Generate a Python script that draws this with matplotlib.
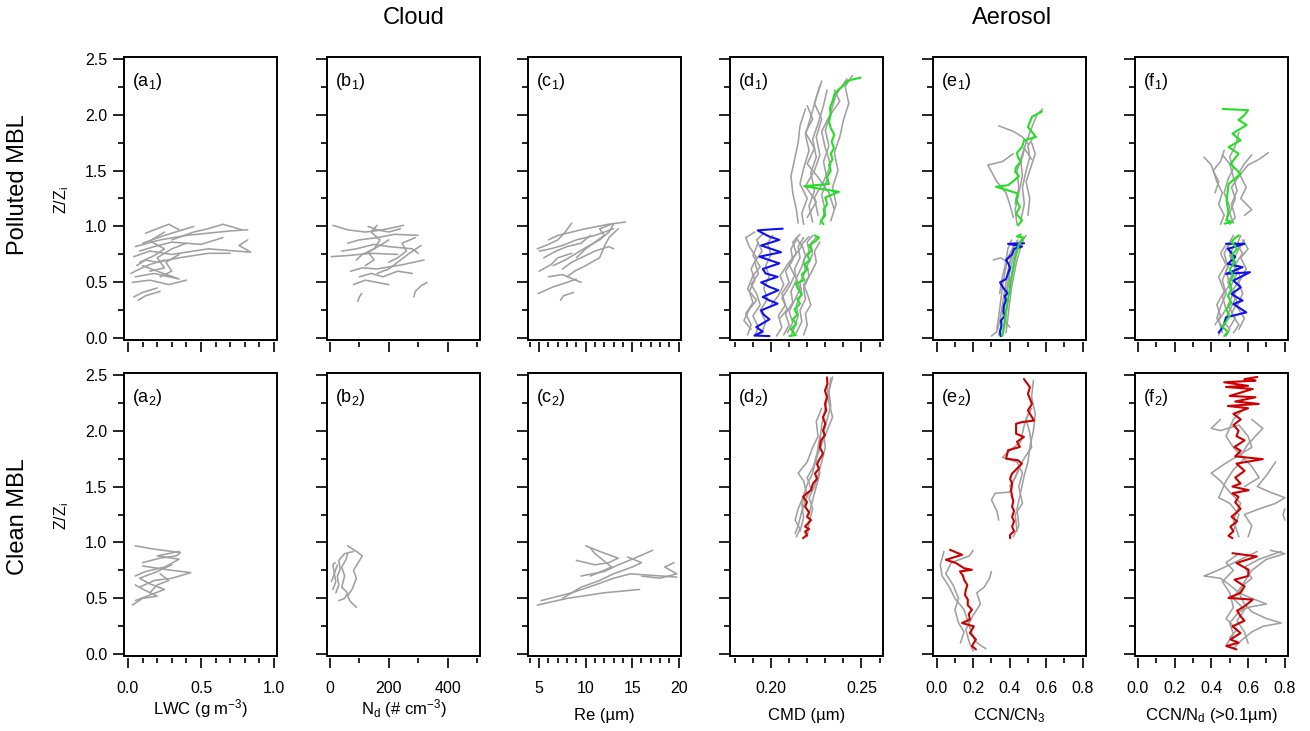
import matplotlib
matplotlib.use("Agg")
import matplotlib.pyplot as plt
from matplotlib.patches import Rectangle
from matplotlib.ticker import MultipleLocator, FixedLocator, FixedFormatter

plt.rcParams['font.family'] = ['Liberation Sans', 'DejaVu Sans']
plt.rcParams['mathtext.fontset'] = 'custom'
plt.rcParams['mathtext.rm'] = 'Liberation Sans'
plt.rcParams['mathtext.it'] = 'Liberation Sans:italic'
plt.rcParams['mathtext.bf'] = 'Liberation Sans:bold'

GRAY = '#a0a0a0'
BLUE = '#1010f0'
GREEN = '#22e022'
RED = '#cc0000'

# ---------------------------------------------------------------------------
# Individual profiles: lists of (value, Z/Zi) pairs
# ---------------------------------------------------------------------------

# (a1) LWC, polluted MBL
LWC_POLLUTED = [
    [(0.04, 0.37), (0.10, 0.41), (0.20, 0.45)],
    [(0.07, 0.34), (0.12, 0.38), (0.22, 0.42)],
    [(0.03, 0.50), (0.15, 0.52), (0.28, 0.48), (0.40, 0.52)],
    [(0.05, 0.55), (0.18, 0.58), (0.35, 0.53), (0.20, 0.60), (0.10, 0.65)],
    [(0.02, 0.58), (0.08, 0.62), (0.15, 0.66), (0.25, 0.70)],
    [(0.06, 0.65), (0.12, 0.70), (0.20, 0.68), (0.35, 0.72), (0.55, 0.76), (0.70, 0.76)],
    [(0.04, 0.73), (0.15, 0.78), (0.30, 0.75), (0.55, 0.80), (0.84, 0.77), (0.76, 0.83), (0.82, 0.88)],
    [(0.08, 0.78), (0.18, 0.82), (0.30, 0.86), (0.50, 0.84), (0.65, 0.90)],
    [(0.05, 0.82), (0.22, 0.88), (0.40, 0.92), (0.70, 0.96), (0.82, 0.97)],
    [(0.10, 0.85), (0.25, 0.92), (0.35, 0.96), (0.45, 1.00)],
    [(0.12, 0.94), (0.20, 0.98), (0.28, 1.02), (0.35, 0.97)],
    [(0.30, 0.88), (0.45, 0.95), (0.55, 0.98), (0.65, 1.02), (0.78, 0.97)],
    [(0.15, 0.60), (0.25, 0.63), (0.20, 0.72), (0.30, 0.80), (0.40, 0.85)],
    [(0.08, 0.68), (0.18, 0.74), (0.25, 0.80), (0.15, 0.87), (0.25, 0.95)],
    [(0.22, 0.55), (0.30, 0.60), (0.26, 0.68), (0.35, 0.75)],
]

# (b1) Nd, polluted MBL
ND_POLLUTED = [
    [(95, 0.33), (100, 0.37), (108, 0.40)],
    [(285, 0.37), (290, 0.42), (310, 0.47), (330, 0.50)],
    [(80, 0.48), (120, 0.52), (160, 0.50), (200, 0.48)],
    [(100, 0.55), (140, 0.58), (180, 0.55), (230, 0.60), (280, 0.58)],
    [(70, 0.60), (110, 0.63), (160, 0.62), (250, 0.66), (320, 0.70)],
    [(5, 0.73), (60, 0.74), (140, 0.76), (230, 0.75)],
    [(40, 0.78), (90, 0.80), (150, 0.84), (200, 0.82), (280, 0.80), (300, 0.76)],
    [(120, 0.65), (150, 0.70), (130, 0.77), (170, 0.83), (200, 0.88)],
    [(60, 0.85), (100, 0.88), (160, 0.90), (220, 0.93), (300, 0.92)],
    [(10, 1.01), (60, 0.97), (120, 0.95), (180, 0.97), (250, 1.01)],
    [(130, 1.00), (160, 0.97), (200, 0.95), (240, 0.98)],
    [(90, 0.70), (110, 0.75), (150, 0.80), (170, 0.88), (140, 0.95), (160, 1.01)],
    [(160, 0.58), (200, 0.62), (240, 0.70), (270, 0.76), (310, 0.83)],
    [(200, 0.68), (230, 0.72), (260, 0.78), (245, 0.85), (290, 0.90)],
]

# (c1) Re, polluted MBL
RE_POLLUTED = [
    [(4.9, 0.40), (6.5, 0.46), (8.0, 0.50), (9.0, 0.53)],
    [(7.3, 0.34), (7.6, 0.38), (8.7, 0.41)],
    [(6.0, 0.55), (7.5, 0.57), (9.5, 0.50)],
    [(5.0, 0.60), (6.3, 0.66), (7.0, 0.72), (8.5, 0.76)],
    [(5.5, 0.72), (6.8, 0.78), (8.0, 0.82), (9.5, 0.85), (10.5, 0.92)],
    [(5.0, 0.78), (6.2, 0.80), (7.5, 0.83), (9.0, 0.88), (11.0, 0.92), (13.0, 0.98)],
    [(6.0, 0.88), (7.0, 0.92), (8.5, 0.95), (10.0, 0.98), (12.5, 1.02), (14.3, 1.04)],
    [(4.8, 0.80), (6.0, 0.84), (7.0, 0.88), (7.8, 0.95), (8.5, 1.03)],
    [(7.5, 0.62), (8.5, 0.68), (9.5, 0.72), (11.0, 0.78), (12.5, 0.82), (13.0, 0.80)],
    [(8.0, 0.55), (8.8, 0.60), (10.0, 0.65), (11.5, 0.72), (12.0, 0.82), (12.5, 0.90), (13.5, 0.98)],
    [(6.5, 0.65), (7.8, 0.70), (9.0, 0.76), (10.2, 0.82), (11.5, 0.88), (12.5, 0.95), (13.0, 1.02)],
    [(9.0, 0.72), (10.0, 0.80), (11.0, 0.86), (12.0, 0.92), (11.5, 0.98), (12.8, 1.02)],
]

# (a2) LWC, clean MBL
LWC_CLEAN = [
    [(0.03, 0.44), (0.10, 0.50), (0.20, 0.52), (0.12, 0.57), (0.05, 0.62)],
    [(0.05, 0.48), (0.15, 0.53), (0.25, 0.58), (0.15, 0.63), (0.08, 0.68), (0.20, 0.74), (0.30, 0.80)],
    [(0.08, 0.60), (0.18, 0.66), (0.30, 0.68), (0.43, 0.73), (0.25, 0.76), (0.10, 0.79)],
    [(0.05, 0.70), (0.12, 0.74), (0.25, 0.78), (0.35, 0.85), (0.20, 0.88), (0.35, 0.92)],
    [(0.10, 0.82), (0.22, 0.86), (0.33, 0.88), (0.36, 0.91), (0.18, 0.94), (0.05, 0.97)],
    [(0.15, 0.55), (0.20, 0.62), (0.28, 0.66), (0.22, 0.72)],
]

# (b2) Nd, clean MBL
ND_CLEAN = [
    [(10, 0.58), (20, 0.65), (15, 0.72), (25, 0.80)],
    [(30, 0.48), (50, 0.50), (60, 0.55), (40, 0.60), (50, 0.70), (40, 0.78), (55, 0.85), (60, 0.90)],
    [(90, 0.42), (70, 0.47), (60, 0.52), (75, 0.58), (90, 0.68), (80, 0.75), (110, 0.88), (90, 0.92), (60, 0.97)],
    [(20, 0.55), (30, 0.62), (25, 0.70), (35, 0.76), (30, 0.84), (50, 0.90), (80, 0.92)],
    [(5, 0.65), (15, 0.72), (10, 0.80), (18, 0.82)],
]

# (c2) Re, clean MBL
RE_CLEAN = [
    [(4.8, 0.44), (8.0, 0.50), (12.0, 0.55), (15.8, 0.58)],
    [(5.2, 0.48), (8.5, 0.55), (11.0, 0.62), (13.0, 0.68), (14.8, 0.72), (19.8, 0.69)],
    [(7.5, 0.50), (9.5, 0.60), (11.5, 0.66), (13.0, 0.72), (15.0, 0.78), (16.0, 0.82), (14.5, 0.87)],
    [(9.5, 0.70), (12.0, 0.74), (13.5, 0.80), (15.0, 0.85), (17.2, 0.93)],
    [(9.0, 0.84), (11.0, 0.80), (12.5, 0.82), (13.5, 0.86), (11.5, 0.92), (10.0, 0.97)],
    [(16.0, 0.70), (18.0, 0.68), (19.8, 0.72), (18.5, 0.78), (19.5, 0.82)],
    [(10.5, 0.70), (12.8, 0.78), (11.0, 0.90), (10.5, 0.95)],
]

# (d1) CMD, polluted MBL
CMD_POLLUTED = [
    # below cloud, low-CMD cases
    [(0.187, 0.03), (0.189, 0.12), (0.186, 0.22), (0.190, 0.32), (0.188, 0.42), (0.191, 0.52),
     (0.189, 0.62), (0.192, 0.72), (0.188, 0.82), (0.186, 0.90), (0.191, 0.95)],
    [(0.191, 0.02), (0.193, 0.10), (0.190, 0.20), (0.194, 0.30), (0.192, 0.40), (0.189, 0.48),
     (0.193, 0.58), (0.191, 0.68), (0.195, 0.78), (0.192, 0.88), (0.196, 0.94)],
    [(0.195, 0.05), (0.197, 0.15), (0.194, 0.25), (0.198, 0.35), (0.196, 0.45), (0.199, 0.55),
     (0.197, 0.65), (0.200, 0.75), (0.198, 0.85), (0.201, 0.92)],
    [(0.189, 0.08), (0.185, 0.16), (0.188, 0.26), (0.192, 0.34), (0.187, 0.44), (0.190, 0.56),
     (0.194, 0.64), (0.190, 0.74), (0.193, 0.86)],
    # below cloud, high-CMD cases
    [(0.203, 0.02), (0.206, 0.10), (0.204, 0.20), (0.208, 0.30), (0.206, 0.40), (0.210, 0.50),
     (0.208, 0.60), (0.212, 0.70), (0.211, 0.80), (0.214, 0.88)],
    [(0.207, 0.03), (0.210, 0.12), (0.208, 0.22), (0.212, 0.32), (0.211, 0.42), (0.214, 0.52),
     (0.213, 0.62), (0.216, 0.72), (0.215, 0.82), (0.218, 0.90)],
    [(0.211, 0.02), (0.213, 0.10), (0.215, 0.20), (0.214, 0.30), (0.217, 0.40), (0.216, 0.50),
     (0.219, 0.60), (0.218, 0.70), (0.221, 0.78), (0.220, 0.86), (0.223, 0.92)],
    [(0.214, 0.05), (0.217, 0.15), (0.216, 0.25), (0.219, 0.35), (0.218, 0.45), (0.221, 0.55),
     (0.220, 0.65), (0.223, 0.75), (0.222, 0.85), (0.225, 0.90)],
    [(0.218, 0.03), (0.220, 0.12), (0.219, 0.22), (0.222, 0.30), (0.220, 0.40), (0.218, 0.48),
     (0.222, 0.58), (0.225, 0.68), (0.224, 0.78), (0.227, 0.86)],
    [(0.205, 0.18), (0.209, 0.26), (0.206, 0.36), (0.210, 0.46), (0.213, 0.56), (0.210, 0.66),
     (0.214, 0.76), (0.212, 0.86), (0.216, 0.93)],
    [(0.200, 0.30), (0.204, 0.38), (0.207, 0.48), (0.205, 0.56), (0.209, 0.66), (0.213, 0.74),
     (0.217, 0.82), (0.214, 0.90)],
    [(0.209, 0.05), (0.212, 0.14), (0.210, 0.24), (0.213, 0.34), (0.216, 0.44), (0.214, 0.54),
     (0.217, 0.64), (0.219, 0.74), (0.217, 0.84), (0.221, 0.91)],
    # above cloud
    [(0.2150, 1.03), (0.2140, 1.15), (0.2120, 1.30), (0.2110, 1.45), (0.2130, 1.60), (0.2150, 1.75),
     (0.2160, 1.90), (0.2190, 2.05)],
    [(0.2180, 1.02), (0.2170, 1.12), (0.2200, 1.25), (0.2160, 1.38), (0.2180, 1.52), (0.2210, 1.68),
     (0.2190, 1.82), (0.2220, 1.98), (0.2250, 2.15), (0.2280, 2.30)],
    [(0.2230, 1.04), (0.2210, 1.18), (0.2240, 1.32), (0.2220, 1.48), (0.2250, 1.62), (0.2230, 1.78),
     (0.2260, 1.92), (0.2290, 2.08), (0.2310, 2.22)],
    [(0.2270, 1.02), (0.2300, 1.14), (0.2280, 1.28), (0.2310, 1.42), (0.2290, 1.58), (0.2320, 1.72),
     (0.2300, 1.86), (0.2330, 2.02), (0.2360, 2.18), (0.2420, 2.32)],
    [(0.2330, 1.05), (0.2360, 1.20), (0.2340, 1.35), (0.2370, 1.50), (0.2350, 1.66), (0.2380, 1.80),
     (0.2400, 1.95), (0.2430, 2.10), (0.2410, 2.25), (0.2450, 2.35)],
    [(0.2200, 1.08), (0.2250, 1.22), (0.2190, 1.36), (0.2240, 1.50), (0.2270, 1.64), (0.2250, 1.80),
     (0.2280, 1.96), (0.2240, 2.10), (0.2270, 2.26)],
    [(0.2260, 1.10), (0.2240, 1.26), (0.2290, 1.40), (0.2330, 1.55), (0.2300, 1.70), (0.2280, 1.85),
     (0.2320, 1.98), (0.2380, 2.12), (0.2350, 2.22)],
    [(0.2350, 1.15), (0.2320, 1.30), (0.2260, 1.44), (0.2200, 1.56), (0.2240, 1.70), (0.2190, 1.84),
     (0.2230, 1.96), (0.2200, 2.08)],
]
CMD_POLLUTED_MEAN_LOWCMD = [
    (0.1991, 0.020), (0.1908, 0.025), (0.1954, 0.06), (0.1918, 0.10), (0.1991, 0.17), (0.1960, 0.21),
    (0.1945, 0.25), (0.2036, 0.31), (0.1990, 0.34), (0.1954, 0.37), (0.2040, 0.43), (0.1990, 0.46),
    (0.1945, 0.50), (0.2036, 0.55), (0.1970, 0.58), (0.1954, 0.62), (0.2046, 0.67), (0.1990, 0.70),
    (0.1936, 0.73), (0.2055, 0.77), (0.2000, 0.80), (0.1945, 0.83), (0.2046, 0.88), (0.1990, 0.91),
    (0.1954, 0.94), (0.1926, 0.965), (0.2009, 0.975), (0.2064, 0.98),
]
CMD_POLLUTED_MEAN = [
    # below cloud
    [(0.2101, 0.02), (0.2137, 0.03), (0.2110, 0.08), (0.2140, 0.13), (0.2120, 0.17), (0.2145, 0.21),
     (0.2130, 0.26), (0.2160, 0.31), (0.2145, 0.35), (0.2170, 0.39), (0.2150, 0.44), (0.2137, 0.49),
     (0.2183, 0.52), (0.2170, 0.57), (0.2201, 0.62), (0.2185, 0.66), (0.2215, 0.70), (0.2200, 0.74),
     (0.2225, 0.79), (0.2210, 0.83), (0.2247, 0.87), (0.2265, 0.90), (0.2240, 0.92)],
    # above cloud
    [(0.2290, 1.02), (0.2275, 1.05), (0.2300, 1.10), (0.2290, 1.15), (0.2310, 1.20), (0.2300, 1.26),
     (0.2375, 1.31), (0.2183, 1.36), (0.2320, 1.38), (0.2310, 1.44), (0.2330, 1.50), (0.2320, 1.55),
     (0.2340, 1.60), (0.2330, 1.65), (0.2348, 1.70), (0.2335, 1.76), (0.2350, 1.82), (0.2330, 1.88),
     (0.2320, 1.94), (0.2330, 2.00), (0.2325, 2.06), (0.2340, 2.12), (0.2350, 2.18), (0.2370, 2.22),
     (0.2400, 2.26), (0.2421, 2.30), (0.2440, 2.31), (0.2495, 2.33)],
]

# (e1) CCN/CN3, polluted MBL
CCNCN_POLLUTED = [
    [(0.300, 0.02), (0.330, 0.06), (0.345, 0.15), (0.360, 0.30), (0.375, 0.45), (0.390, 0.60),
     (0.410, 0.75), (0.430, 0.85)],
    [(0.340, 0.03), (0.355, 0.12), (0.365, 0.25), (0.380, 0.40), (0.395, 0.55), (0.415, 0.70),
     (0.440, 0.82), (0.470, 0.90)],
    [(0.360, 0.02), (0.372, 0.10), (0.380, 0.22), (0.392, 0.35), (0.405, 0.50), (0.420, 0.62),
     (0.435, 0.75), (0.455, 0.86), (0.490, 0.92)],
    [(0.380, 0.05), (0.390, 0.18), (0.398, 0.30), (0.410, 0.45), (0.425, 0.58), (0.440, 0.70),
     (0.458, 0.80), (0.475, 0.88)],
    [(0.330, 0.08), (0.340, 0.20), (0.352, 0.35), (0.362, 0.48), (0.375, 0.60), (0.390, 0.72),
     (0.420, 0.82), (0.445, 0.88)],
    [(0.400, 0.10), (0.380, 0.14), (0.372, 0.28), (0.385, 0.42), (0.400, 0.52), (0.395, 0.65),
     (0.420, 0.78), (0.460, 0.86)],
    [(0.310, 0.70), (0.350, 0.72), (0.380, 0.69), (0.400, 0.75)],
    [(0.345, 0.40), (0.360, 0.55), (0.375, 0.65), (0.390, 0.80), (0.410, 0.88)],
    [(0.44, 1.02), (0.43, 1.15), (0.45, 1.30), (0.47, 1.45), (0.46, 1.60), (0.49, 1.75), (0.52, 1.88),
     (0.55, 2.00), (0.58, 2.05)],
    [(0.46, 1.05), (0.48, 1.20), (0.47, 1.35), (0.49, 1.50), (0.51, 1.62), (0.50, 1.72), (0.53, 1.80)],
    [(0.42, 1.08), (0.40, 1.20), (0.38, 1.30), (0.33, 1.40), (0.28, 1.55), (0.36, 1.58), (0.42, 1.65)],
    [(0.50, 1.10), (0.51, 1.25), (0.49, 1.40), (0.52, 1.55), (0.54, 1.65), (0.52, 1.75)],
    [(0.34, 1.90), (0.42, 1.85), (0.47, 1.80), (0.50, 1.74)],
    [(0.43, 1.20), (0.45, 1.35), (0.44, 1.50), (0.47, 1.62), (0.48, 1.70), (0.52, 1.60)],
]
CCNCN_POLLUTED_MEAN_LOWCMD = [
    (0.350, 0.02), (0.347, 0.06), (0.355, 0.11), (0.352, 0.16), (0.375, 0.20), (0.365, 0.24),
    (0.369, 0.30), (0.380, 0.34), (0.372, 0.38), (0.390, 0.40), (0.365, 0.45), (0.347, 0.50),
    (0.380, 0.53), (0.391, 0.58), (0.402, 0.63), (0.392, 0.67), (0.380, 0.70), (0.413, 0.75),
    (0.424, 0.80), (0.468, 0.82), (0.391, 0.845), (0.479, 0.85),
]
CCNCN_POLLUTED_MEAN = [
    [(0.358, 0.02), (0.365, 0.08), (0.372, 0.15), (0.378, 0.22), (0.385, 0.29), (0.392, 0.36),
     (0.400, 0.43), (0.405, 0.50), (0.412, 0.57), (0.420, 0.64), (0.428, 0.71), (0.440, 0.78),
     (0.450, 0.84), (0.479, 0.90), (0.440, 0.91), (0.460, 0.93)],
    [(0.445, 1.01), (0.468, 1.055), (0.435, 1.115), (0.456, 1.175), (0.435, 1.235), (0.445, 1.295),
     (0.325, 1.355), (0.391, 1.369), (0.424, 1.41), (0.450, 1.45), (0.430, 1.49), (0.435, 1.53),
     (0.460, 1.58), (0.445, 1.62), (0.440, 1.66), (0.468, 1.71), (0.479, 1.77), (0.544, 1.80),
     (0.500, 1.89), (0.522, 1.98), (0.577, 2.027)],
]

# (f1) CCN/Nd(>0.1um), polluted MBL
CCNND_POLLUTED = [
    [(0.44, 0.03), (0.46, 0.10), (0.43, 0.18), (0.45, 0.28), (0.48, 0.40), (0.46, 0.52), (0.49, 0.64),
     (0.47, 0.76), (0.50, 0.86), (0.52, 0.92)],
    [(0.48, 0.02), (0.50, 0.08), (0.47, 0.15), (0.50, 0.25), (0.53, 0.35), (0.50, 0.45), (0.54, 0.58),
     (0.52, 0.70), (0.55, 0.80), (0.58, 0.88)],
    [(0.52, 0.05), (0.55, 0.12), (0.51, 0.22), (0.54, 0.32), (0.52, 0.44), (0.56, 0.54), (0.53, 0.66),
     (0.57, 0.76), (0.54, 0.84), (0.56, 0.92)],
    [(0.42, 0.12), (0.45, 0.20), (0.43, 0.30), (0.47, 0.42), (0.44, 0.55), (0.48, 0.66), (0.45, 0.76),
     (0.48, 0.84)],
    [(0.46, 0.05), (0.44, 0.16), (0.48, 0.26), (0.46, 0.38), (0.50, 0.48), (0.48, 0.60), (0.51, 0.72),
     (0.49, 0.82), (0.53, 0.90)],
    [(0.55, 0.08), (0.58, 0.18), (0.54, 0.28), (0.57, 0.40), (0.55, 0.50), (0.59, 0.62), (0.56, 0.72),
     (0.60, 0.80), (0.57, 0.88)],
    [(0.50, 0.10), (0.53, 0.18), (0.49, 0.30), (0.52, 0.40), (0.49, 0.50), (0.53, 0.62), (0.50, 0.74),
     (0.53, 0.86)],
    [(0.45, 1.02), (0.47, 1.10), (0.44, 1.20), (0.46, 1.30), (0.43, 1.40), (0.40, 1.55), (0.36, 1.62)],
    [(0.52, 1.03), (0.50, 1.12), (0.53, 1.25), (0.51, 1.35), (0.55, 1.45), (0.60, 1.55), (0.66, 1.60),
     (0.71, 1.66)],
    [(0.48, 1.05), (0.50, 1.18), (0.47, 1.30), (0.49, 1.42), (0.52, 1.52), (0.50, 1.62), (0.53, 1.72),
     (0.55, 1.84)],
    [(0.58, 1.10), (0.62, 1.15), (0.56, 1.25), (0.59, 1.35), (0.55, 1.48), (0.58, 1.56), (0.62, 1.64)],
    [(0.42, 1.30), (0.44, 1.40), (0.41, 1.50), (0.45, 1.58), (0.47, 1.68)],
    [(0.50, 1.02), (0.53, 1.08), (0.51, 1.20), (0.54, 1.32), (0.52, 1.44), (0.50, 1.56), (0.46, 1.64)],
]
CCNND_POLLUTED_MEAN_LOWCMD = [
    (0.44, 0.052), (0.455, 0.082), (0.47, 0.127), (0.48, 0.187), (0.59, 0.232), (0.52, 0.307),
    (0.57, 0.337), (0.51, 0.396), (0.56, 0.456), (0.52, 0.516), (0.61, 0.591), (0.48, 0.576),
    (0.57, 0.636), (0.49, 0.666), (0.53, 0.726), (0.49, 0.80), (0.58, 0.845), (0.48, 0.845),
]
CCNND_POLLUTED_MEAN = [
    [(0.47, 0.02), (0.49, 0.06), (0.46, 0.10), (0.48, 0.15), (0.50, 0.20), (0.48, 0.26), (0.51, 0.32),
     (0.49, 0.38), (0.51, 0.44), (0.50, 0.50), (0.52, 0.56), (0.50, 0.62), (0.53, 0.68), (0.51, 0.74),
     (0.54, 0.80), (0.51, 0.86), (0.53, 0.90), (0.55, 0.92)],
    [(0.472, 1.025), (0.515, 1.04), (0.483, 1.055), (0.494, 1.115), (0.483, 1.235), (0.494, 1.38),
     (0.559, 1.47), (0.505, 1.56), (0.548, 1.65), (0.494, 1.71), (0.559, 1.77), (0.515, 1.83),
     (0.592, 1.907), (0.548, 1.952), (0.581, 1.997), (0.600, 2.04), (0.462, 2.05)],
]

# (d2) CMD, clean MBL
CMD_CLEAN = [
    [(0.2140, 1.05), (0.2160, 1.12), (0.2133, 1.20), (0.2150, 1.30), (0.2180, 1.42), (0.2200, 1.52),
     (0.2230, 1.62), (0.2250, 1.75), (0.2270, 1.90), (0.2280, 2.05), (0.2300, 2.20), (0.2320, 2.35),
     (0.2330, 2.47)],
    [(0.2200, 1.05), (0.2210, 1.18), (0.2230, 1.30), (0.2210, 1.40), (0.2240, 1.50), (0.2260, 1.60),
     (0.2280, 1.72), (0.2300, 1.85), (0.2290, 1.98), (0.2310, 2.10), (0.2330, 2.22), (0.2320, 2.35),
     (0.2340, 2.48)],
    [(0.2160, 1.10), (0.2180, 1.22), (0.2170, 1.35), (0.2195, 1.45), (0.2180, 1.55), (0.2150, 1.62),
     (0.2200, 1.72), (0.2230, 1.85), (0.2260, 1.95), (0.2250, 2.08), (0.2280, 2.20)],
    [(0.2210, 1.25), (0.2230, 1.38), (0.2250, 1.50), (0.2270, 1.62), (0.2250, 1.75), (0.2280, 1.88),
     (0.2310, 2.00), (0.2340, 2.12), (0.2320, 2.25), (0.2310, 2.40)],
    [(0.2133, 1.08), (0.2150, 1.15), (0.2170, 1.28), (0.2190, 1.38), (0.2220, 1.48), (0.2200, 1.58),
     (0.2235, 1.68), (0.2255, 1.80), (0.2270, 1.95)],
]
CMD_CLEAN_MEAN = [
    [(0.2177, 1.038), (0.2199, 1.068), (0.2188, 1.097), (0.2210, 1.12), (0.2188, 1.142), (0.2221, 1.20),
     (0.2199, 1.23), (0.2210, 1.27), (0.2188, 1.32), (0.2199, 1.36), (0.2177, 1.408), (0.2199, 1.44),
     (0.2221, 1.467), (0.2232, 1.527), (0.2254, 1.57), (0.2243, 1.616), (0.2265, 1.66), (0.2254, 1.70),
     (0.2265, 1.735), (0.2287, 1.794), (0.2270, 1.85), (0.2276, 1.913), (0.2298, 1.96), (0.2287, 2.00),
     (0.2300, 2.06), (0.2287, 2.12), (0.2305, 2.18), (0.2298, 2.238), (0.2309, 2.30), (0.2298, 2.357),
     (0.2312, 2.42), (0.2309, 2.476)],
]

# (e2) CCN/CN3, clean MBL
CCNCN_CLEAN = [
    [(0.34, 1.20), (0.33, 1.28), (0.30, 1.38), (0.32, 1.44), (0.40, 1.45), (0.42, 1.55), (0.45, 1.65)],
    [(0.42, 1.05), (0.45, 1.15), (0.44, 1.30), (0.46, 1.45), (0.48, 1.60), (0.50, 1.72), (0.51, 1.85),
     (0.53, 2.00), (0.54, 2.15), (0.52, 2.30), (0.53, 2.45)],
    [(0.44, 1.10), (0.43, 1.25), (0.47, 1.35), (0.45, 1.50), (0.47, 1.62), (0.44, 1.72), (0.36, 1.76),
     (0.40, 1.82), (0.46, 1.90), (0.48, 2.05), (0.50, 2.15)],
    [(0.40, 1.50), (0.43, 1.58), (0.46, 1.70), (0.49, 1.78), (0.52, 1.85), (0.51, 1.98), (0.49, 2.10),
     (0.52, 2.20)],
    [(0.27, 0.05), (0.24, 0.08), (0.21, 0.12), (0.19, 0.20), (0.17, 0.30), (0.15, 0.40), (0.10, 0.50),
     (0.07, 0.60), (0.03, 0.70), (0.02, 0.80), (0.04, 0.92)],
    [(0.20, 0.03), (0.18, 0.10), (0.16, 0.22), (0.20, 0.35), (0.24, 0.45), (0.22, 0.55), (0.26, 0.60),
     (0.29, 0.68), (0.30, 0.74)],
    [(0.13, 0.10), (0.15, 0.20), (0.12, 0.28), (0.10, 0.40), (0.12, 0.50), (0.09, 0.62), (0.05, 0.72),
     (0.08, 0.82), (0.18, 0.88), (0.20, 0.93)],
]
CCNCN_CLEAN_MEAN = [
    [(0.215, 0.044), (0.193, 0.074), (0.215, 0.133), (0.182, 0.19), (0.204, 0.25), (0.139, 0.28),
     (0.182, 0.311), (0.176, 0.36), (0.193, 0.40), (0.170, 0.44), (0.171, 0.489), (0.155, 0.53),
     (0.160, 0.578), (0.168, 0.62), (0.150, 0.667), (0.145, 0.70), (0.128, 0.741), (0.193, 0.756),
     (0.150, 0.77), (0.106, 0.816), (0.051, 0.845), (0.139, 0.89), (0.073, 0.934)],
    [(0.402, 1.038), (0.402, 1.068), (0.424, 1.10), (0.413, 1.142), (0.424, 1.19), (0.413, 1.23),
     (0.424, 1.28), (0.413, 1.32), (0.420, 1.37), (0.413, 1.408), (0.408, 1.46), (0.413, 1.527),
     (0.402, 1.57), (0.413, 1.616), (0.440, 1.66), (0.467, 1.705), (0.445, 1.735), (0.380, 1.75),
     (0.391, 1.824), (0.456, 1.854), (0.440, 1.90), (0.478, 1.943), (0.435, 1.972), (0.435, 2.061),
     (0.467, 2.076), (0.533, 2.09), (0.500, 2.18), (0.522, 2.239), (0.500, 2.328), (0.511, 2.387),
     (0.478, 2.461)],
]

# (f2) CCN/Nd(>0.1um), clean MBL
CCNND_CLEAN = [
    [(0.55, 1.05), (0.52, 1.20), (0.56, 1.35), (0.50, 1.45), (0.45, 1.55), (0.40, 1.62), (0.47, 1.70),
     (0.55, 1.78), (0.62, 1.85), (0.60, 1.95), (0.55, 2.05), (0.45, 2.00), (0.40, 2.02), (0.45, 2.10)],
    [(0.60, 1.05), (0.62, 1.15), (0.58, 1.25), (0.66, 1.30), (0.75, 1.35), (0.80, 1.40), (0.72, 1.45),
     (0.65, 1.50), (0.70, 1.60), (0.75, 1.72)],
    [(0.52, 1.10), (0.55, 1.25), (0.50, 1.35), (0.44, 1.40), (0.48, 1.55), (0.52, 1.65), (0.58, 1.75),
     (0.52, 1.85), (0.48, 1.95), (0.52, 2.10), (0.58, 2.20)],
    [(0.58, 1.50), (0.66, 1.58), (0.62, 1.68), (0.56, 1.78), (0.60, 1.88), (0.64, 1.95), (0.68, 2.02),
     (0.62, 2.10)],
    [(0.80, 1.20), (0.79, 1.25), (0.80, 1.30)],
    [(0.52, 0.05), (0.56, 0.12), (0.62, 0.20), (0.68, 0.25), (0.78, 0.28), (0.70, 0.32), (0.62, 0.38),
     (0.58, 0.45), (0.55, 0.55), (0.58, 0.65), (0.62, 0.75), (0.70, 0.85), (0.80, 0.90), (0.72, 0.93)],
    [(0.48, 0.08), (0.52, 0.18), (0.50, 0.28), (0.55, 0.38), (0.60, 0.42), (0.70, 0.45), (0.62, 0.50),
     (0.55, 0.55), (0.50, 0.62), (0.45, 0.68), (0.36, 0.70), (0.42, 0.74), (0.50, 0.80), (0.60, 0.88),
     (0.65, 0.92)],
    [(0.60, 0.10), (0.58, 0.20), (0.54, 0.30), (0.58, 0.40), (0.52, 0.50), (0.56, 0.60), (0.62, 0.68),
     (0.58, 0.78), (0.66, 0.85), (0.78, 0.92)],
    [(0.50, 0.15), (0.54, 0.22), (0.48, 0.32), (0.52, 0.42), (0.50, 0.55), (0.46, 0.65), (0.52, 0.75),
     (0.48, 0.82), (0.55, 0.90)],
]
CCNND_CLEAN_MEAN = [
    [(0.537, 0.044), (0.482, 0.074), (0.548, 0.104), (0.504, 0.133), (0.559, 0.19), (0.515, 0.25),
     (0.580, 0.30), (0.559, 0.341), (0.540, 0.39), (0.581, 0.43), (0.625, 0.489), (0.493, 0.504),
     (0.559, 0.55), (0.581, 0.608), (0.526, 0.667), (0.600, 0.70), (0.603, 0.756), (0.537, 0.816),
     (0.648, 0.875), (0.515, 0.904)],
    [(0.515, 1.038), (0.493, 1.06), (0.520, 1.10), (0.504, 1.142), (0.540, 1.19), (0.510, 1.23),
     (0.559, 1.30), (0.530, 1.36), (0.548, 1.408), (0.515, 1.44), (0.603, 1.467), (0.515, 1.50),
     (0.559, 1.527), (0.530, 1.58), (0.581, 1.64), (0.537, 1.705), (0.680, 1.745), (0.530, 1.77),
     (0.560, 1.82), (0.526, 1.854), (0.581, 1.913), (0.537, 1.95), (0.548, 2.00), (0.520, 2.05),
     (0.560, 2.10), (0.520, 2.15), (0.600, 2.20), (0.490, 2.22), (0.658, 2.239), (0.530, 2.26),
     (0.640, 2.298), (0.500, 2.31), (0.625, 2.372), (0.480, 2.39), (0.600, 2.40), (0.470, 2.432),
     (0.640, 2.447), (0.580, 2.46), (0.650, 2.48)],
]

# ---------------------------------------------------------------------------
# Axis definitions for the six columns
# ---------------------------------------------------------------------------
COLUMNS = [
    dict(letter='a', xlim=(-0.027, 1.02), major=[0.0, 0.5, 1.0], labels=['0.0', '0.5', '1.0'],
         minor=0.1, xlabel='LWC (g m$^{-3}$)', label_base=714),
    dict(letter='b', xlim=(-10, 510), major=[0, 200, 400], labels=['0', '200', '400'],
         minor=100, xlabel='N$_{\\mathrm{d}}$ (# cm$^{-3}$)', label_base=714),
    dict(letter='c', xlim=(3.8, 20.25), major=[5, 10, 15, 20], labels=['5', '10', '15', '20'],
         minor=1, xlabel='Re (\u00b5m)', label_base=720),
    dict(letter='d', xlim=(0.1773, 0.2619), major=[0.20, 0.25], labels=['0.20', '0.25'],
         minor=0.01, xlabel='CMD (\u00b5m)', label_base=720),
    dict(letter='e', xlim=(-0.02, 0.818), major=[0.0, 0.2, 0.4, 0.6, 0.8],
         labels=['0.0', '0.2', '0.4', '0.6', '0.8'], minor=0.1,
         xlabel='CCN/CN$_{3}$', label_base=720),
    dict(letter='f', xlim=(-0.015, 0.817), major=[0.0, 0.2, 0.4, 0.6, 0.8],
         labels=['0.0', '0.2', '0.4', '0.6', '0.8'], minor=0.1,
         xlabel='CCN/N$_{\\mathrm{d}}$ (>0.1\u00b5m)', label_base=720),
]

PANELS = {
    (0, 0): dict(gray=LWC_POLLUTED),
    (0, 1): dict(gray=ND_POLLUTED),
    (0, 2): dict(gray=RE_POLLUTED),
    (0, 3): dict(gray=CMD_POLLUTED, blue=CMD_POLLUTED_MEAN_LOWCMD, green=CMD_POLLUTED_MEAN),
    (0, 4): dict(gray=CCNCN_POLLUTED, blue=CCNCN_POLLUTED_MEAN_LOWCMD, green=CCNCN_POLLUTED_MEAN),
    (0, 5): dict(gray=CCNND_POLLUTED, blue=CCNND_POLLUTED_MEAN_LOWCMD, green=CCNND_POLLUTED_MEAN),
    (1, 0): dict(gray=LWC_CLEAN),
    (1, 1): dict(gray=ND_CLEAN),
    (1, 2): dict(gray=RE_CLEAN),
    (1, 3): dict(gray=CMD_CLEAN, red=CMD_CLEAN_MEAN),
    (1, 4): dict(gray=CCNCN_CLEAN, red=CCNCN_CLEAN_MEAN),
    (1, 5): dict(gray=CCNND_CLEAN, red=CCNND_CLEAN_MEAN),
}

# ---------------------------------------------------------------------------
# Figure layout (pixel geometry of a 1310 x 731 canvas)
# ---------------------------------------------------------------------------
W, H = 1310, 731
COL_LEFT = [124, 327, 528, 730, 933, 1135]
COL_W = 153
ROW_TOP = [57, 373]
ROW_H = 283
TICK_FS = 11.5

fig = plt.figure(figsize=(W / 100, H / 100), dpi=100)


def plot_profile(ax, prof, color, lw, z=2):
    xs = [p[0] for p in prof]
    zs = [p[1] for p in prof]
    ax.plot(xs, zs, color=color, lw=lw, solid_joinstyle='round', solid_capstyle='round', zorder=z)


for r in range(2):
    for c, col in enumerate(COLUMNS):
        left, top = COL_LEFT[c], ROW_TOP[r]
        ax = fig.add_axes([left / W, 1 - (top + ROW_H) / H, COL_W / W, ROW_H / H])
        ax.set_xlim(*col['xlim'])
        ax.set_ylim(-0.015, 2.515)

        data = PANELS[(r, c)]
        for prof in data['gray']:
            plot_profile(ax, prof, GRAY, 1.15, 2)
        if 'blue' in data:
            plot_profile(ax, data['blue'], BLUE, 1.5, 3)
        for key, colr in (('green', GREEN), ('red', RED)):
            for prof in data.get(key, []):
                plot_profile(ax, prof, colr, 1.5, 3)

        # closed frame, with the x axis standing slightly off the frame
        for sp in ax.spines.values():
            sp.set_visible(False)
        ax.spines['bottom'].set_position(('outward', 1.5))
        ax.add_patch(Rectangle((0, 0), 1, 1, transform=ax.transAxes, fill=False,
                               lw=1.4, ec='black', clip_on=False, zorder=5))

        ax.xaxis.set_major_locator(FixedLocator(col['major']))
        ax.xaxis.set_major_formatter(FixedFormatter(col['labels']))
        ax.xaxis.set_minor_locator(MultipleLocator(col['minor']))
        ax.yaxis.set_major_locator(FixedLocator([0, 0.5, 1.0, 1.5, 2.0, 2.5]))
        ax.yaxis.set_major_formatter(FixedFormatter(['0.0', '0.5', '1.0', '1.5', '2.0', '2.5']))
        ax.yaxis.set_minor_locator(MultipleLocator(0.25))

        ax.tick_params(axis='x', which='major', direction='out', length=7.5, width=1.2,
                       pad=9, labelsize=TICK_FS, labelbottom=(r == 1))
        ax.tick_params(axis='x', which='minor', direction='out', length=3.5, width=1.2)
        ax.tick_params(axis='y', which='major', direction='out', length=8, width=1.2,
                       pad=4, labelsize=TICK_FS, labelleft=(c == 0))
        ax.tick_params(axis='y', which='minor', direction='out', length=4, width=1.2)
        ax.tick_params(top=False, right=False, which='both')

        ax.text(0.055, 0.915, f"({col['letter']}$_{{{r + 1}}}$)", transform=ax.transAxes,
                fontsize=13, ha='left', va='center')

        if r == 1:
            fig.text((left + COL_W / 2) / W, 1 - col['label_base'] / H, col['xlabel'],
                     fontsize=12, ha='center', va='baseline')

# row and group titles
fig.text(414 / W, 1 - 17.5 / H, 'Cloud', fontsize=17, ha='center', va='center')
fig.text(1012 / W, 1 - 17.5 / H, 'Aerosol', fontsize=17, ha='center', va='center')
fig.text(18 / W, 1 - 185 / H, 'Polluted MBL', fontsize=17, rotation=90, ha='center', va='center')
fig.text(18 / W, 1 - 517 / H, 'Clean MBL', fontsize=17, rotation=90, ha='center', va='center')
for yc in (200, 516):
    fig.text(62 / W, 1 - yc / H, 'Z/Z$_{\\mathrm{i}}$', fontsize=11.5, rotation=90,
             ha='center', va='center')

fig.savefig('out.png', dpi=100)
